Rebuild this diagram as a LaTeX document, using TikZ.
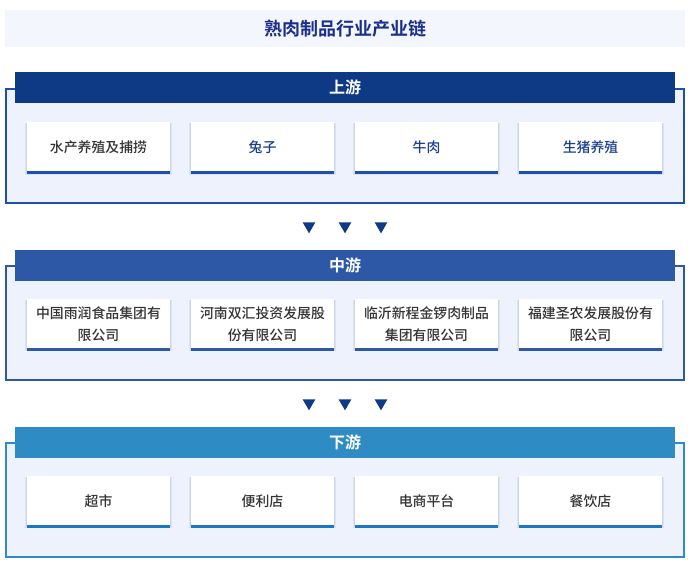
\documentclass[tikz,border=0pt]{standalone}
\usepackage{fontspec}
\setmainfont{Noto Sans CJK SC}[BoldFont=Noto Sans CJK SC Bold]
\newfontfamily\cjkmed{Noto Sans CJK SC Medium}
\usetikzlibrary{shadows,shapes.geometric}
\definecolor{titlebg}{HTML}{F3F6FD}
\definecolor{titlefg}{HTML}{1B2F8A}
\definecolor{framebg}{HTML}{EDF2FC}
\definecolor{upc}{HTML}{0E3A85}
\definecolor{upb}{HTML}{1D4FAE}
\definecolor{midc}{HTML}{2D58A5}
\definecolor{downc}{HTML}{2F8BC4}
\definecolor{downb}{HTML}{1A78C2}
\definecolor{txtgray}{HTML}{333333}
\definecolor{txtblue}{HTML}{1A3F8F}
\definecolor{shadowc}{HTML}{8FA3CC}
\tikzset{
  titleband/.style={fill=titlebg, minimum width=510pt, minimum height=27.75pt, inner sep=0pt,
    text=titlefg, font=\bfseries\fontsize{13.5}{16}\selectfont},
  header/.style={fill=#1, minimum width=495pt, minimum height=23.25pt, inner sep=0pt,
    text=white, font=\bfseries\fontsize{12}{14}\selectfont},
  frame/.style={draw=#1, line width=1.5pt, fill=framebg},
  itembox/.style={fill=white, minimum width=107.25pt, minimum height=37.5pt, inner sep=0pt,
    align=center, text=txtgray, font=\cjkmed\fontsize{10.4}{16.5}\selectfont,
    general shadow={shadow xshift=0pt, shadow yshift=-1.2pt, shadow scale=1.03, opacity=0.18, fill=shadowc},
    general shadow={shadow xshift=0pt, shadow yshift=-0.8pt, shadow scale=1.015, opacity=0.2, fill=shadowc}},
  bottomline/.style={draw=#1, line width=2.3pt},
  tri/.style={regular polygon, regular polygon sides=3, shape border rotate=180,
    fill=upc, minimum size=11pt, inner sep=0pt}
}
\begin{document}
\begin{tikzpicture}[x=0.75pt,y=-0.75pt]
\useasboundingbox (0,0) rectangle (691,563);
\fill[white] (0,0) rectangle (691,563);
% title
\node[titleband] (title) at (345,28.5) {熟肉制品行业产业链};

% upstream
\path[frame=upb] (6,89) rectangle (684,203);
\node[header=upc] (uph) at (345,87.5) {上游};
\node[itembox] (u1) at (98.5,147.5) {水产养殖及捕捞};
\node[itembox, text=txtblue] (u2) at (262.5,147.5) {兔子};
\node[itembox, text=txtblue] (u3) at (426.5,147.5) {牛肉};
\node[itembox, text=txtblue] (u4) at (590.5,147.5) {生猪养殖};
\foreach \n in {u1,u2,u3,u4}{\draw[bottomline=upb] (\n.south west) -- (\n.south east);}

% arrows 1
\node[tri] (a1) at (309,226) {};
\node[tri] (a2) at (345,226) {};
\node[tri] (a3) at (381,226) {};

% midstream
\path[frame=midc] (6,266) rectangle (684,380);
\node[header=midc] (midh) at (345,265.5) {中游};
\node[itembox] (m1) at (98.5,324) {中国雨润食品集团有\\限公司};
\node[itembox] (m2) at (262.5,324) {河南双汇投资发展股\\份有限公司};
\node[itembox] (m3) at (426.5,324) {临沂新程金锣肉制品\\集团有限公司};
\node[itembox] (m4) at (590.5,324) {福建圣农发展股份有\\限公司};
\foreach \n in {m1,m2,m3,m4}{\draw[bottomline=midc] (\n.south west) -- (\n.south east);}

% arrows 2
\node[tri] (b1) at (309,403) {};
\node[tri] (b2) at (345,403) {};
\node[tri] (b3) at (381,403) {};

% downstream
\path[frame=downc] (6,443) rectangle (684,557);
\node[header=downc] (downh) at (345,442.5) {下游};
\node[itembox] (d1) at (98.5,501) {超市};
\node[itembox] (d2) at (262.5,501) {便利店};
\node[itembox] (d3) at (426.5,501) {电商平台};
\node[itembox] (d4) at (590.5,501) {餐饮店};
\foreach \n in {d1,d2,d3,d4}{\draw[bottomline=downb] (\n.south west) -- (\n.south east);}
\end{tikzpicture}
\end{document}
